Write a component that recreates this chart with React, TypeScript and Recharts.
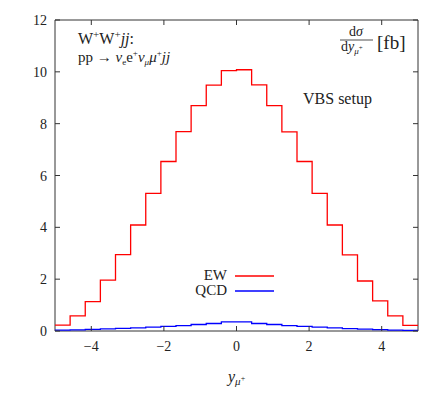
import { LineChart, Line, XAxis, YAxis, ReferenceArea, Legend } from 'recharts'

// bin edges in y_mu+ (24 bins from -5 to 5)
const binEdges = [
  -5, -4.5833, -4.1667, -3.75, -3.3333, -2.9167, -2.5, -2.0833, -1.6667, -1.25, -0.8333, -0.4167,
  0, 0.4167, 0.8333, 1.25, 1.6667, 2.0833, 2.5, 2.9167, 3.3333, 3.75, 4.1667, 4.5833, 5,
]

// dsigma/dy per bin [fb]
const ewValues = [
  0.23, 0.58, 1.13, 1.96, 2.95, 4.09, 5.31, 6.54, 7.69, 8.7, 9.49, 10.05,
  10.08, 9.5, 8.7, 7.68, 6.54, 5.31, 4.09, 2.94, 1.93, 1.16, 0.58, 0.22,
]
const qcdValues = [
  0.03, 0.04, 0.06, 0.08, 0.1, 0.12, 0.15, 0.18, 0.21, 0.25, 0.29, 0.35,
  0.35, 0.29, 0.25, 0.21, 0.18, 0.15, 0.12, 0.09, 0.07, 0.05, 0.03, 0.02,
]

const xTicks = [-4, -2, 0, 2, 4]
const yTicks = [0, 2, 4, 6, 8, 10, 12]

const PLOT = { left: 55, right: 418, top: 20, bottom: 331 }
const FONT = 'Liberation Serif, DejaVu Serif, serif'
const TXT = { fontFamily: FONT, fill: '#222' }
const AXIS = '#333'
const TICK_LEN = 5

// stepAfter needs a closing point at the last edge
const data = binEdges.map((x, i) => ({
  x,
  ew: ewValues[Math.min(i, ewValues.length - 1)],
  qcd: qcdValues[Math.min(i, qcdValues.length - 1)],
}))

const fmt = (v: number) => (v < 0 ? `\u2212${-v}` : `${v}`)

function XTick(props: any) {
  const { x, payload } = props
  return (
    <g>
      <line x1={x} x2={x} y1={PLOT.bottom} y2={PLOT.bottom - TICK_LEN} stroke={AXIS} />
      <line x1={x} x2={x} y1={PLOT.top} y2={PLOT.top + TICK_LEN} stroke={AXIS} />
      <text x={x} y={351} textAnchor="middle" fontSize={14} style={TXT}>
        {fmt(payload.value)}
      </text>
    </g>
  )
}

function YTick(props: any) {
  const { y, payload } = props
  return (
    <g>
      <line x1={PLOT.left} x2={PLOT.left + TICK_LEN} y1={y} y2={y} stroke={AXIS} />
      <line x1={PLOT.right} x2={PLOT.right - TICK_LEN} y1={y} y2={y} stroke={AXIS} />
      <text x={47} y={y + 5} textAnchor="end" fontSize={14} style={TXT}>
        {payload.value}
      </text>
    </g>
  )
}

function LegendBox(props: any) {
  const items = props.payload || []
  return (
    <svg width={100} height={34} style={{ overflow: 'visible' }}>
      {items.map((it: any, i: number) => (
        <g key={it.value}>
          <text x={47} y={14 + i * 15} textAnchor="end" fontSize={15} style={TXT}>
            {it.value}
          </text>
          <line x1={55} x2={94} y1={10 + i * 15} y2={10 + i * 15} stroke={it.color} strokeWidth={1.3} />
        </g>
      ))}
    </svg>
  )
}

export default function App() {
  return (
    <div style={{ position: 'absolute', left: 0, top: 0, background: '#fff' }}>
      <LineChart
        width={436}
        height={394}
        data={data}
        margin={{ top: 20, right: 18, bottom: 33, left: 15 }}
      >
        <XAxis
          type="number"
          dataKey="x"
          domain={[-5, 5]}
          ticks={xTicks}
          allowDataOverflow
          height={30}
          axisLine={false}
          tickLine={false}
          tick={<XTick />}
        />
        <YAxis
          type="number"
          domain={[0, 12]}
          ticks={yTicks}
          allowDataOverflow
          width={40}
          axisLine={false}
          tickLine={false}
          tick={<YTick />}
        />
        <ReferenceArea x1={-5} x2={5} y1={0} y2={12} fill="none" stroke={AXIS} strokeWidth={1} ifOverflow="visible" />
        <Line
          type="stepAfter"
          dataKey="ew"
          name="EW"
          stroke="#ff0000"
          strokeWidth={1.3}
          dot={false}
          isAnimationActive={false}
        />
        <Line
          type="stepAfter"
          dataKey="qcd"
          name="QCD"
          stroke="#0000ff"
          strokeWidth={1.3}
          dot={false}
          isAnimationActive={false}
        />
        <Legend
          layout="vertical"
          align="center"
          verticalAlign="middle"
          content={<LegendBox />}
          wrapperStyle={{ left: 180, top: 266, width: 100, height: 34 }}
        />

        {/* annotations */}
        <text x={78} y={44} fontSize={16} style={TXT}>
          W<tspan dy={-6} fontSize={11}>+</tspan>
          <tspan dy={6}>W</tspan>
          <tspan dy={-6} fontSize={11}>+</tspan>
          <tspan dy={6} fontStyle="italic">jj</tspan>:
        </text>
        <text x={78} y={62} fontSize={15} style={TXT}>
          pp → <tspan fontStyle="italic">ν</tspan>
          <tspan dy={3} fontSize={9}>e</tspan>
          <tspan dy={-3}>e</tspan>
          <tspan dy={-6} fontSize={9}>+</tspan>
          <tspan dy={6} fontStyle="italic">ν</tspan>
          <tspan dy={3} fontSize={9} fontStyle="italic">μ</tspan>
          <tspan dy={-3} fontStyle="italic">μ</tspan>
          <tspan dy={-6} fontSize={9}>+</tspan>
          <tspan dy={6} fontStyle="italic">jj</tspan>
        </text>

        <text x={356} y={36} textAnchor="middle" fontSize={14} style={TXT}>
          d<tspan fontStyle="italic">σ</tspan>
        </text>
        <line x1={340} x2={373} y1={40} y2={40} stroke="#222" strokeWidth={0.8} />
        <text x={341} y={51} fontSize={14} style={TXT}>
          d<tspan fontStyle="italic">y</tspan>
          <tspan dy={3} fontSize={9} fontStyle="italic">μ</tspan>
          <tspan dy={-4} fontSize={7}>+</tspan>
        </text>
        <text x={377} y={49} fontSize={19} style={TXT}>
          [fb]
        </text>

        <text x={303} y={104} fontSize={16} style={TXT}>
          VBS setup
        </text>

        <text x={228} y={382} fontSize={16} style={TXT}>
          <tspan fontStyle="italic">y</tspan>
          <tspan dy={3} fontSize={11} fontStyle="italic">μ</tspan>
          <tspan dy={-4} fontSize={8}>+</tspan>
        </text>
      </LineChart>
    </div>
  )
}
